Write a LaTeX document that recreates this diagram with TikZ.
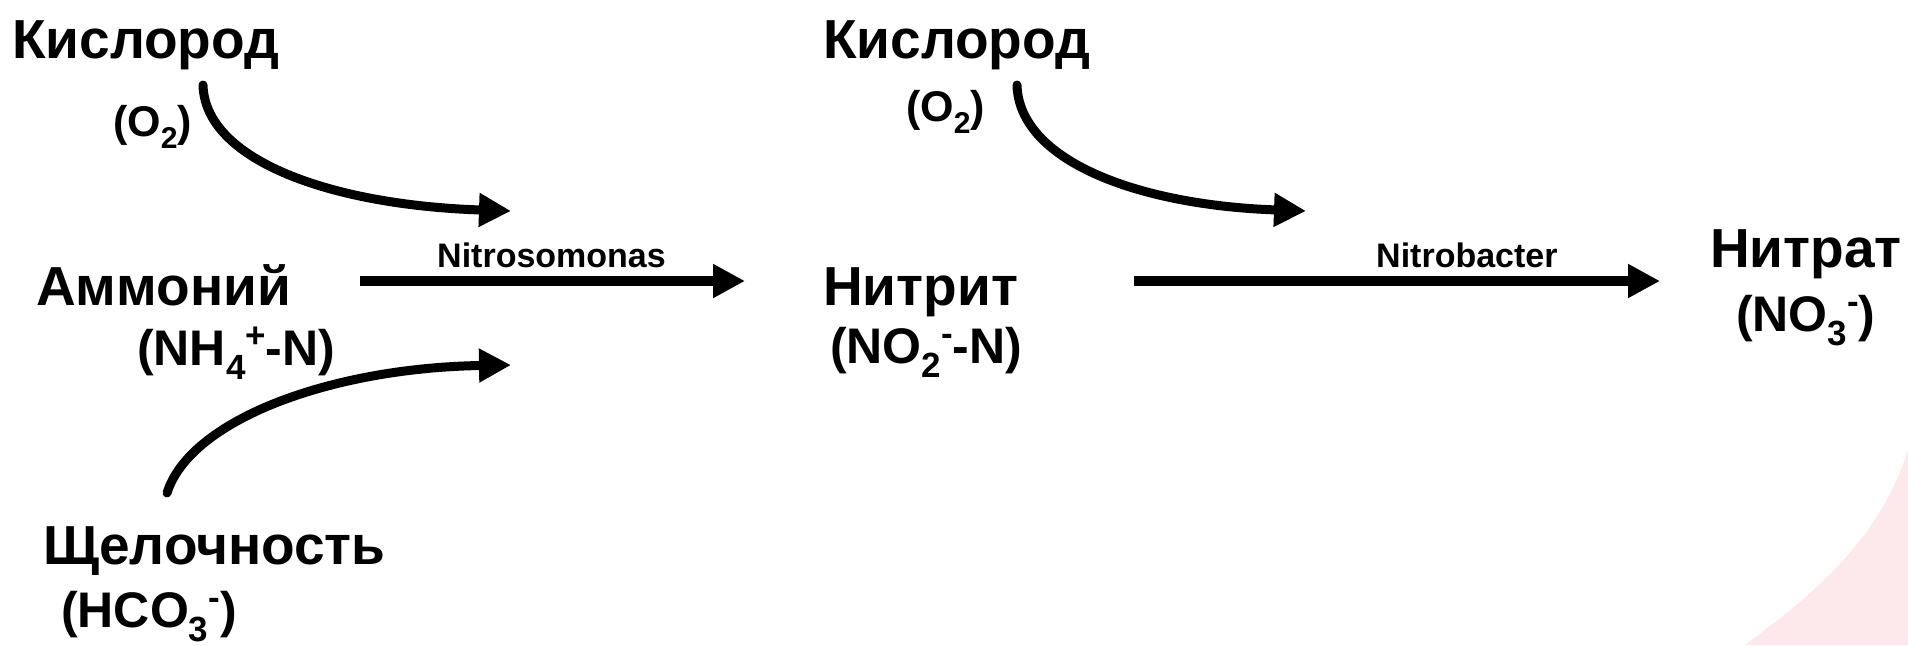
\documentclass[tikz,border=0pt]{standalone}
\usepackage{fontspec}
\setmainfont{Liberation Sans}
\usetikzlibrary{arrows.meta}
\newcommand{\dnx}[1]{\raisebox{-0.28em}{\scalebox{0.7}{#1}}}
\newcommand{\upx}[1]{\raisebox{0.36em}{\scalebox{0.7}{#1}}}
\definecolor{bgpink}{RGB}{253,233,236}
\begin{document}
\begin{tikzpicture}[x=1pt,y=-1pt,
  big/.style={font=\bfseries\fontsize{55}{60}\selectfont, anchor=base west, inner sep=0pt},
  form/.style={font=\bfseries\fontsize{50}{55}\selectfont, anchor=base west, inner sep=0pt},
  oxy/.style={font=\bfseries\fontsize{43}{47}\selectfont, anchor=base west, inner sep=0pt},
  bact/.style={font=\bfseries\fontsize{34}{38}\selectfont, anchor=base west, inner sep=0pt},
  flow/.style={line width=10pt, -{Triangle[length=32pt,width=32pt]}},
  feed/.style={line width=9pt, line cap=round, -{Triangle[length=32pt,width=32pt]}}
]
\useasboundingbox (0,0) rectangle (1908,645);
% faint background decoration
\fill[bgpink] (1745,645) .. controls (1805,600) and (1878,545) .. (1908,450) -- (1908,645) -- cycle;

% texts
\node[big]  (kisl1)  at (12,58)    {Кислород};
\node[oxy]  (o2a)    at (113,136)  {(O\dnx{2})};
\node[big]  (amm)    at (36,305)   {Аммоний};
\node[form] (nh4)    at (137,365)  {(NH\dnx{4}\upx{+}-N)};
\node[big]  (shch)   at (43,564)   {Щелочность};
\node[form] (hco3)   at (61,627)   {(HCO\dnx{3}\upx{-})};
\node[big]  (kisl2)  at (823,58)   {Кислород};
\node[oxy]  (o2b)    at (906,121)  {(O\dnx{2})};
\node[big]  (nitrit) at (823,305)  {Нитрит};
\node[form] (no2)    at (830,363)  {(NO\dnx{2}\upx{-}-N)};
\node[big]  (nitrat) at (1710,267) {Нитрат};
\node[form] (no3)    at (1736,331) {(NO\dnx{3}\upx{-})};
\node[bact] (nsm)    at (437,267)  {Nitrosomonas};
\node[bact] (nbc)    at (1376,267) {Nitrobacter};

% arrow end points
\coordinate (a1s) at (360,281);
\coordinate (a1e) at (745,281);
\coordinate (a2s) at (1134,281);
\coordinate (a2e) at (1660,281);
\coordinate (c1s) at (203,85);
\coordinate (c1e) at (511,211);
\coordinate (c2s) at (167,493);
\coordinate (c2e) at (511,365);
\coordinate (c3s) at (1017,85);
\coordinate (c3e) at (1306,211);

\draw[flow] (a1s) -- (a1e);
\draw[flow] (a2s) -- (a2e);
\draw[feed] (c1s) .. controls (205,160) and (330,205) .. (c1e);
\draw[feed] (c2s) .. controls (190,420) and (330,368) .. (c2e);
\draw[feed] (c3s) .. controls (1019,160) and (1136,205) .. (c3e);
\end{tikzpicture}
\end{document}
